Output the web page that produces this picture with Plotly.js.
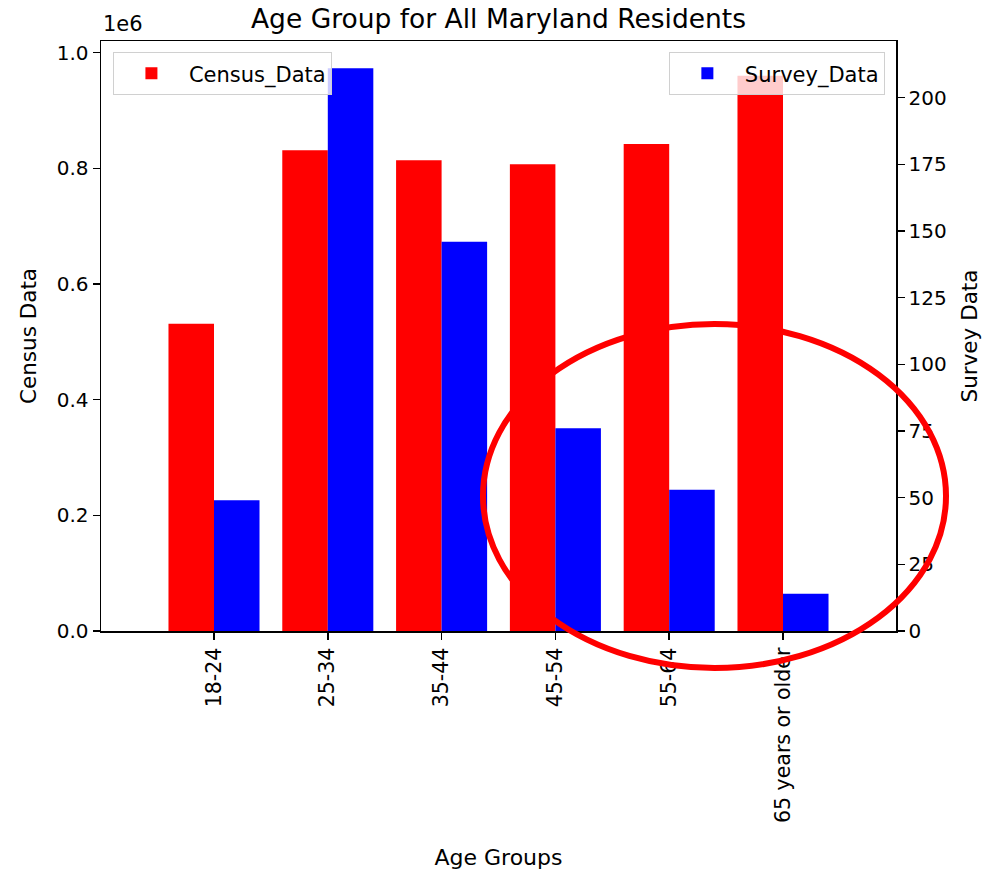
<!DOCTYPE html>
<html>
<head>
<meta charset="utf-8">
<script src="https://cdn.plot.ly/plotly-3.0.1.min.js"></script>
<style>
  html, body { margin: 0; padding: 0; background: #fff; }
  #chart { width: 992px; height: 870px; }
</style>
</head>
<body>
<div id="chart"></div>
<script>
// ---- data ----
var ageGroups = ["18-24", "25-34", "35-44", "45-54", "55-64", "65 years or older"];
var censusData = [531000, 831000, 814000, 807000, 842000, 960000];
var surveyData = [49, 211, 146, 76, 53, 14];
var censusTickVals = [0, 200000, 400000, 600000, 800000, 1000000];
var censusTickText = ["0.0", "0.2", "0.4", "0.6", "0.8", "1.0"];
var surveyTickVals = [0, 25, 50, 75, 100, 125, 150, 175, 200];

var FONT = "DejaVu Sans, Verdana, sans-serif";

var traces = [
  {
    type: "bar",
    name: "Census_Data",
    x: ageGroups,
    y: censusData,
    yaxis: "y",
    width: 0.4,
    offset: -0.4,
    marker: { color: "#ff0000", line: { width: 0 } },
    legend: "legend",
    showlegend: true,
    hoverinfo: "x+y"
  },
  {
    type: "bar",
    name: "Survey_Data",
    x: ageGroups,
    y: surveyData,
    yaxis: "y2",
    width: 0.4,
    offset: 0,
    marker: { color: "#0000ff", line: { width: 0 } },
    legend: "legend2",
    showlegend: true,
    hoverinfo: "x+y"
  }
];

var axisCommon = {
  showgrid: false,
  zeroline: false,
  showline: true,
  linecolor: "#000",
  linewidth: 1.5,
  ticks: "outside",
  ticklen: 7,
  tickwidth: 1.5,
  tickcolor: "#000",
  tickfont: { family: FONT, size: 20, color: "#000" }
};

var layout = {
  width: 992,
  height: 870,
  margin: { l: 101, r: 96, t: 41, b: 239, pad: 0 },
  paper_bgcolor: "#fff",
  plot_bgcolor: "#fff",
  font: { family: FONT, color: "#000" },
  barmode: "overlay",
  showlegend: true,
  title: {
    text: "Age Group for All Maryland Residents",
    font: { family: FONT, size: 26.5, color: "#000" },
    x: 0.5, xref: "paper", xanchor: "center",
    y: 0.979, yref: "container", yanchor: "middle"
  },
  xaxis: Object.assign({}, axisCommon, {
    type: "category",
    range: [-0.993, 5.993],
    mirror: true,
    tickangle: -90,
    tickfont: { family: FONT, size: 20.5, color: "#000" },
    title: { text: "Age Groups", font: { family: FONT, size: 22, color: "#000" }, standoff: 30 }
  }),
  yaxis: Object.assign({}, axisCommon, {
    range: [0, 1020000],
    tickvals: censusTickVals,
    ticktext: censusTickText,
    title: { text: "Census Data", font: { family: FONT, size: 21.5, color: "#000" }, standoff: 14 }
  }),
  yaxis2: Object.assign({}, axisCommon, {
    overlaying: "y",
    side: "right",
    range: [0, 221.25],
    tickvals: surveyTickVals,
    title: { text: "Survey Data", font: { family: FONT, size: 21.5, color: "#000" }, standoff: 16 }
  }),
  legend: {
    x: 0.015, y: 0.981, xanchor: "left", yanchor: "top",
    bgcolor: "rgba(255,255,255,0.8)",
    bordercolor: "#d0d0d0", borderwidth: 1,
    itemwidth: 65,
    font: { family: FONT, size: 21, color: "#000" }
  },
  legend2: {
    x: 0.986, y: 0.981, xanchor: "right", yanchor: "top",
    bgcolor: "rgba(255,255,255,0.8)",
    bordercolor: "#d0d0d0", borderwidth: 1,
    itemwidth: 65,
    font: { family: FONT, size: 21, color: "#000" }
  },
  annotations: [
    {
      text: "1e6", xref: "paper", yref: "paper", x: 0, y: 1,
      xanchor: "left", yanchor: "bottom", showarrow: false,
      font: { family: FONT, size: 21, color: "#000" }, yshift: 3
    }
  ],
  shapes: [
    {
      type: "circle", xref: "paper", yref: "paper",
      x0: 0.4805, x1: 1.0629, y0: -0.0627, y1: 0.5203,
      line: { color: "#ff0000", width: 6 },
      fillcolor: "rgba(0,0,0,0)",
      layer: "above"
    }
  ]
};

Plotly.newPlot("chart", traces, layout, { displayModeBar: false, staticPlot: true });
</script>
</body>
</html>
